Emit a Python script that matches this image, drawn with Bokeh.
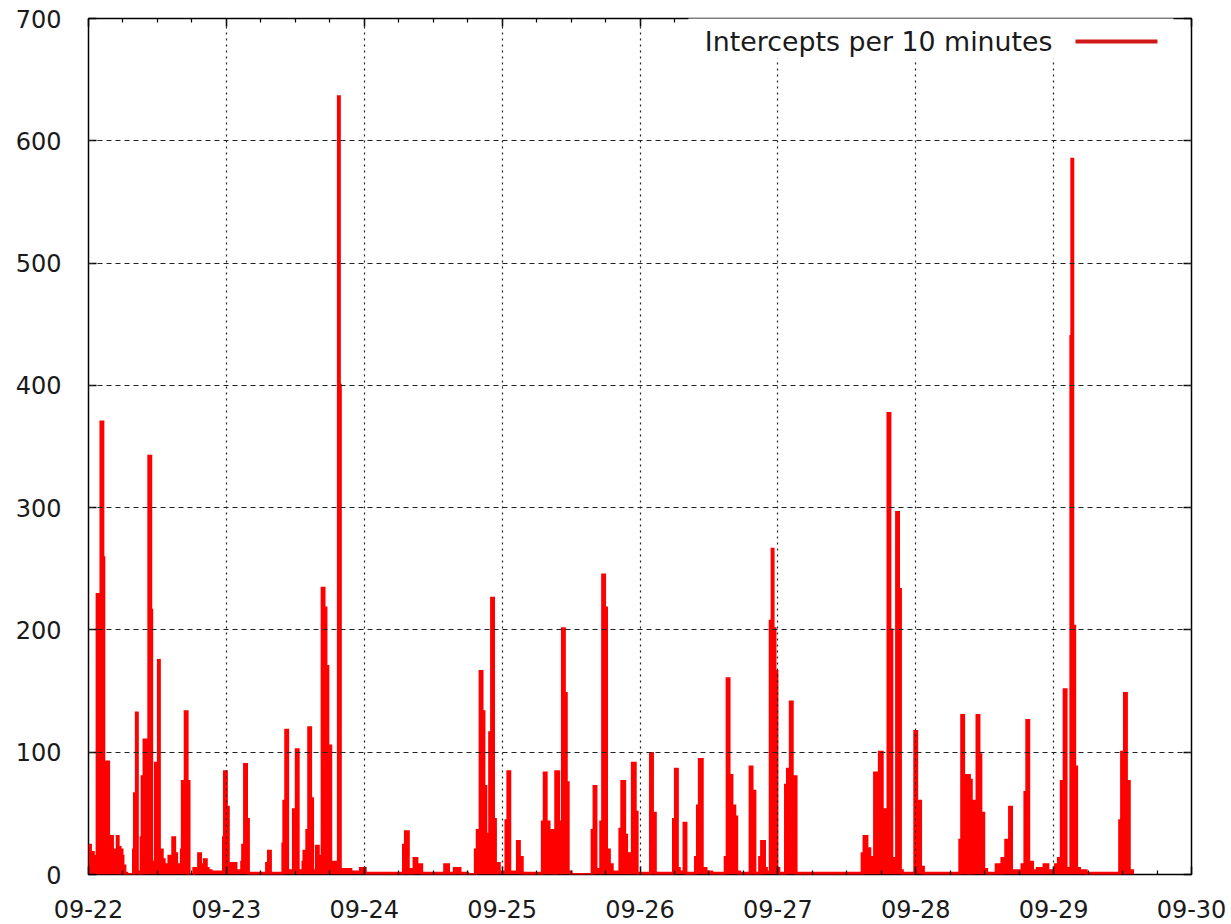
import numpy as np
from bokeh.plotting import figure
from bokeh.models import (Range1d, FixedTicker, LinearAxis, Label, BoxAnnotation,
                          CustomLabelingPolicy)
from bokeh.embed import file_html
from bokeh.resources import INLINE

# ---------------- data ----------------
day_labels = ["09-22", "09-23", "09-24", "09-25", "09-26", "09-27", "09-28", "09-29", "09-30"]
y_ticks = [0, 100, 200, 300, 400, 500, 600, 700]
series_label = "Intercepts per 10 minutes"

# 10-minute slot index since 09-22 00:00 (value holds until next listed slot)
slot = [
    0, 2, 4, 5, 7, 9, 11, 13, 15, 16, 19, 21, 23, 25, 27, 30, 31, 33, 35, 36, 38, 40,
    47, 48, 50, 51, 53, 55, 56, 58, 63, 65, 66, 68, 70, 73, 74, 77, 79, 82, 84, 86,
    88, 90, 92, 94, 97, 98, 101, 103, 105, 110, 113, 115, 117, 119, 121, 123, 125, 128,
    141, 142, 144, 146,
    154, 160, 161, 163, 165, 167, 186, 188, 190, 203, 204, 206, 208, 214, 217, 219,
    224, 225, 228, 230, 232, 234, 238, 240, 242, 244, 246, 248, 250, 253, 261, 262, 263, 274,
    284, 289, 329, 331, 334, 337, 340, 343, 348, 372, 376, 382, 388, 396, 404, 406, 409,
    411, 413, 415, 419, 421, 423, 425, 429, 436, 438, 440,
    448, 450, 453, 474, 476, 478, 481, 485, 488, 491, 495, 497, 499, 501, 504, 526, 528,
    530, 535, 537, 539, 541, 544, 547, 555, 557, 560, 562, 565, 568, 571, 573,
    587, 589, 592, 611, 613, 615, 617, 622, 624, 634, 636, 638, 641, 645, 651, 665, 667,
    669, 672, 675, 677, 680, 691, 693, 696, 701, 703, 706, 708, 712, 714, 715, 717, 719, 721,
    728, 730, 732, 733, 735, 739, 808, 810, 813, 816, 819, 821, 823, 826, 829, 832, 835,
    837, 839, 844, 846, 848, 850, 863, 865, 869, 872,
    910, 912, 914, 915, 917, 920, 921, 922, 926, 928, 930, 932, 935, 938, 948, 952, 954,
    958, 962, 964, 975, 978, 980, 982, 986, 991, 995, 998, 1002, 1010,
    1013, 1016, 1019, 1021, 1026, 1027, 1028, 1030, 1032, 1035, 1042, 1077, 1079, 1082,
    1084, 1087, 1092,
]
count = [
    24, 12, 18, 15, 8, 229, 47, 370, 259, 40, 92, 15, 31, 20, 14, 31, 22, 20, 15, 7, 1, 0,
    20, 66, 132, 2, 0, 30, 80, 110, 342, 216, 10, 5, 91, 175, 20, 12, 3, 8, 15, 5,
    30, 17, 8, 3, 20, 76, 133, 76, 0, 5, 2, 17, 8, 5, 12, 5, 3, 2,
    30, 84, 55, 9,
    3, 10, 24, 90, 45, 1, 9, 19, 1, 25, 60, 118, 3, 53, 102, 3,
    10, 19, 36, 120, 62, 3, 23, 15, 5, 234, 218, 170, 105, 10, 636, 400, 4, 2,
    5, 1, 24, 35, 1, 4, 13, 8, 1, 8, 1, 5, 1, 0, 20, 36, 166,
    133, 72, 33, 116, 226, 45, 9, 2, 44, 84, 2,
    27, 14, 1, 43, 83, 43, 36, 1, 84, 43, 201, 148, 75, 2, 0, 36, 72,
    4, 43, 245, 218, 20, 8, 2, 37, 76, 32, 17, 4, 91, 51, 1,
    99, 50, 1, 45, 86, 5, 2, 42, 1, 14, 56, 94, 5, 2, 1, 14, 160,
    81, 56, 47, 2, 1, 88, 68, 1, 14, 27, 5, 2, 207, 266, 201, 166, 5, 1,
    73, 86, 33, 141, 80, 1, 17, 31, 21, 14, 3, 83, 44, 100, 53, 13, 377,
    200, 13, 296, 233, 3, 1, 117, 60, 6, 1,
    28, 130, 8, 71, 81, 1, 77, 60, 13, 130, 98, 50, 4, 1, 8, 1, 13,
    28, 55, 3, 8, 67, 126, 10, 3, 5, 2, 8, 3, 8,
    13, 76, 151, 5, 440, 585, 203, 88, 5, 3, 1, 44, 100, 148,
    76, 3, 3,
]

x_days = np.array(slot) / 144.0  # 144 ten-minute slots per day
y_vals = np.array(count)

FONT = "DejaVu Sans"
RED = "#ff0000"

p = figure(width=1229, height=924, x_range=Range1d(0, 8), y_range=Range1d(0, 700),
           output_backend="svg", toolbar_location=None,
           min_border_left=88, min_border_right=38, min_border_top=18, min_border_bottom=50)
p.background_fill_color = "white"
p.border_fill_color = "white"
p.outline_line_color = "black"
p.outline_line_width = 1.5

day_ticks = list(range(len(day_labels)))
minor = [i * 0.25 for i in range(0, 33) if i % 4 != 0]

p.xaxis.ticker = FixedTicker(ticks=day_ticks, minor_ticks=minor)
p.xaxis.major_label_overrides = {i: lab for i, lab in enumerate(day_labels)}
p.yaxis.ticker = FixedTicker(ticks=y_ticks, minor_ticks=[])

def style_ticks(ax):
    ax.axis_line_color = None
    ax.major_tick_in = 8
    ax.major_tick_out = 0
    ax.minor_tick_in = 4
    ax.minor_tick_out = 0
    ax.major_tick_line_color = "black"
    ax.major_tick_line_width = 1.5
    ax.minor_tick_line_color = "black"
    ax.minor_tick_line_width = 1.2

for ax in (p.xaxis[0], p.yaxis[0]):
    style_ticks(ax)
    ax.major_label_text_font = FONT
    ax.major_label_text_font_size = "24px"
    ax.major_label_text_color = "#1a1a1a"
p.xaxis.major_label_standoff = 25
p.yaxis.major_label_standoff = 27

hide_labels = CustomLabelingPolicy(
    code="for (const i of Array.from(indices)) { indices.unset(i) }\nreturn indices")
top_ax = LinearAxis(ticker=FixedTicker(ticks=day_ticks, minor_ticks=minor),
                    major_label_policy=hide_labels)
right_ax = LinearAxis(ticker=FixedTicker(ticks=y_ticks, minor_ticks=[]),
                      major_label_policy=hide_labels)
for ax in (top_ax, right_ax):
    style_ticks(ax)
    ax.major_label_text_font_size = "8px"
    ax.major_label_standoff = 0
p.add_layout(top_ax, "above")
p.add_layout(right_ax, "right")

p.xgrid.ticker = FixedTicker(ticks=day_ticks)
p.ygrid.ticker = FixedTicker(ticks=y_ticks)
for g in (p.xgrid[0], p.ygrid[0]):
    g.grid_line_color = "#222222"
    g.grid_line_width = 1.2
    g.level = "guide"
p.xgrid.grid_line_dash = "2 4"
p.ygrid.grid_line_dash = "5 4"

p.varea_step(x=x_days, y1=0, y2=y_vals, step_mode="after", fill_color=RED)
p.step(x_days, y_vals, mode="after", line_color=RED, line_width=3, line_join="miter")

# key (gnuplot style: text then sample line), opaque so grid lines stop under it
key_bg = BoxAnnotation(left=600, right=1085, bottom=816, top=860,
                       left_units="screen", right_units="screen",
                       bottom_units="screen", top_units="screen",
                       fill_color="white", fill_alpha=1.0, line_alpha=0)
p.add_layout(key_bg)
key_line = BoxAnnotation(left=987, right=1069, bottom=831, top=835,
                         left_units="screen", right_units="screen",
                         bottom_units="screen", top_units="screen",
                         fill_color="#d01818", fill_alpha=1.0, line_alpha=0)
p.add_layout(key_line)
key_text = Label(x=964, y=833, x_units="screen", y_units="screen", text=series_label,
                 text_font=FONT, text_font_size="26.8px", text_color="#1a1a1a",
                 text_align="right", text_baseline="alphabetic")
p.add_layout(key_text)

open("out.html", "w").write(file_html(p, INLINE))
